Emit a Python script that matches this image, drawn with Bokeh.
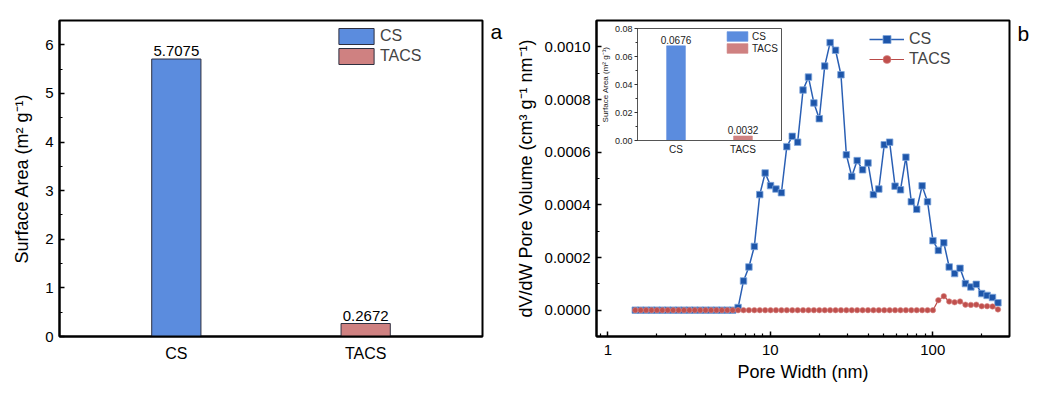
from bokeh.plotting import figure
from bokeh.layouts import row
from bokeh.models import (Range1d, SingleIntervalTicker, FixedTicker, NumeralTickFormatter,
                          BasicTickFormatter, Legend, LegendItem, LabelSet, LinearAxis,
                          ColumnDataSource)
from bokeh.embed import file_html
from bokeh.resources import INLINE
from bokeh.core.properties import value

FONT = "Liberation Sans"

# ---------------- data ----------------
categories = ["CS", "TACS"]
surface_area = [5.7075, 0.2672]

inset_categories = ["CS", "TACS"]
inset_surface_area = [0.0676, 0.0032]

bar_colors = ["#5B8CDE", "#CF8181"]

pore_width = [1.473, 1.590, 1.717, 1.854, 2.002, 2.162, 2.335, 2.521, 2.722, 2.939,
              3.174, 3.425, 3.698, 3.993, 4.312, 4.656, 5.028, 5.429, 5.862, 6.330,
              6.835, 7.380, 7.969, 8.605, 9.291, 10.03, 10.83, 11.70, 12.63, 13.64,
              14.73, 15.90, 17.17, 18.54, 20.02, 21.62, 23.34, 25.21, 27.22, 29.39,
              31.72, 34.25, 36.99, 39.94, 43.12, 46.56, 50.28, 54.29, 58.62, 63.30,
              68.35, 73.80, 79.69, 86.05, 92.91, 100.3, 108.3, 117.0, 126.3, 136.4,
              147.3, 159.0, 171.7, 185.4, 200.2, 216.2, 233.4, 252.1]

cs_dvdw = [0, 0, 0, 0, 0, 0, 0, 0, 0, 0,
           0, 0, 0, 0, 0, 0, 0, 0, 0, 0.000010,
           0.000111, 0.000164, 0.000242, 0.000439, 0.000521, 0.000473, 0.000460, 0.000446, 0.000621, 0.000660,
           0.000638, 0.000836, 0.000885, 0.000787, 0.000727, 0.000927, 0.001016, 0.000987, 0.000894, 0.000590,
           0.000508, 0.000568, 0.000533, 0.000559, 0.000439, 0.000460, 0.000628, 0.000638, 0.000471, 0.000457,
           0.000581, 0.000412, 0.000383, 0.000472, 0.000412, 0.000264, 0.000227, 0.000256, 0.000164, 0.000139,
           0.000159, 0.000101, 0.000088, 0.000098, 0.000063, 0.000056, 0.000048, 0.000028]

tacs_dvdw = [0, 0, 0, 0, 0, 0, 0, 0, 0, 0,
             0, 0, 0, 0, 0, 0, 0, 0, 0, 0,
             0, 0, 0, 0, 0, 0, 0, 0, 0, 0,
             0, 0, 0, 0, 0, 0, 0, 0, 0, 0,
             0, 0, 0, 0, 0, 0, 0, 0, 0, 0,
             0, 0, 0, 0, 0, 0, 0.000038, 0.000053, 0.000033, 0.000030,
             0.000033, 0.000021, 0.000020, 0.000021, 0.000015, 0.000015, 0.000014, 0.000003]

panel_tags = ["a", "b"]

CS_LINE = "#2A5FB4"
CS_MARK = "#1E56AA"
TACS_LINE = "#B94A48"
TACS_MARK = "#C0504D"


def style_axis(ax, tick_size="15px", label_size="18px"):
    ax.axis_line_width = 2
    ax.axis_line_color = "black"
    ax.major_tick_in = 5
    ax.major_tick_out = 0
    ax.minor_tick_in = 3
    ax.minor_tick_out = 0
    ax.major_tick_line_width = 1.5
    ax.minor_tick_line_width = 1.2
    ax.major_tick_line_color = "black"
    ax.minor_tick_line_color = "black"
    ax.major_label_text_font = FONT
    ax.major_label_text_font_size = tick_size
    ax.major_label_text_color = "black"
    ax.axis_label_text_font = FONT
    ax.axis_label_text_font_size = label_size
    ax.axis_label_text_font_style = "normal"
    ax.axis_label_text_color = "black"


def tag_axis(tag, at):
    # a bare right-hand axis that carries only the panel letter
    ax = LinearAxis(ticker=FixedTicker(ticks=[at]), major_label_overrides={at: tag})
    ax.axis_line_color = None
    ax.major_tick_line_color = None
    ax.minor_tick_line_color = None
    ax.major_tick_in = 0
    ax.major_tick_out = 0
    ax.major_label_standoff = 8
    ax.major_label_text_font = FONT
    ax.major_label_text_font_size = "21px"
    ax.major_label_text_color = "black"
    return ax


# ---------------- panel a ----------------
p1 = figure(output_backend="svg", toolbar_location=None,
            frame_width=423, frame_height=316,
            min_border_left=59, min_border_right=30, min_border_top=20, min_border_bottom=52,
            x_range=Range1d(0.383, 2.617), y_range=Range1d(0, 6.5))
p1.xgrid.visible = False
p1.ygrid.visible = False
p1.outline_line_color = "black"
p1.outline_line_width = 2
p1.outline_line_alpha = 1

xpos = [i + 1 for i in range(len(categories))]
src1 = ColumnDataSource(dict(x=xpos, top=surface_area, color=bar_colors,
                             text=[f"{v:.4f}" for v in surface_area]))
bars1 = p1.vbar(x="x", top="top", width=0.26, fill_color="color",
                line_color="#2E3040", line_width=1, source=src1)
p1.add_layout(LabelSet(x="x", y="top", text="text", source=src1, text_align="center",
                       text_baseline="bottom", y_offset=3, text_font=value(FONT),
                       text_font_size=value("15px"), text_color="black"))

style_axis(p1.yaxis[0])
p1.yaxis.ticker = SingleIntervalTicker(interval=1, num_minor_ticks=2)
p1.yaxis.axis_label = "Surface Area (m² g⁻¹)"
p1.yaxis.major_label_standoff = 6
p1.yaxis.axis_label_standoff = 10

style_axis(p1.xaxis[0], tick_size="16px")
p1.xaxis.ticker = FixedTicker(ticks=xpos)
p1.xaxis.major_label_overrides = {x: c for x, c in zip(xpos, categories)}
p1.xaxis.major_tick_in = 0
p1.xaxis.major_tick_out = 0
p1.xaxis.minor_tick_in = 0
p1.xaxis.minor_tick_out = 0
p1.xaxis.major_label_standoff = 8

leg1 = Legend(items=[LegendItem(label=c, renderers=[bars1], index=i) for i, c in enumerate(categories)],
              location=(275, 270), glyph_width=44, glyph_height=20, label_height=16,
              spacing=0, padding=0, margin=0, label_standoff=2,
              label_text_font=FONT, label_text_font_size="16px",
              border_line_color=None, background_fill_alpha=0)
p1.add_layout(leg1)
p1.add_layout(tag_axis(panel_tags[0], 6.28), "right")

# ---------------- panel b ----------------
p2 = figure(output_backend="svg", toolbar_location=None, x_axis_type="log",
            frame_width=413, frame_height=316,
            min_border_left=83, min_border_right=40, min_border_top=20, min_border_bottom=52,
            x_range=Range1d(0.85, 297), y_range=Range1d(-0.0001, 0.0011))
p2.xgrid.visible = False
p2.ygrid.visible = False
p2.outline_line_color = "black"
p2.outline_line_width = 2
p2.outline_line_alpha = 1

cs_l = p2.line(pore_width, cs_dvdw, line_color=CS_LINE, line_width=1.5)
cs_m = p2.scatter(pore_width, cs_dvdw, marker="square", size=6.5,
                  fill_color=CS_MARK, line_color="#7FA6DC", line_width=0.8)
tacs_l = p2.line(pore_width, tacs_dvdw, line_color=TACS_LINE, line_width=1.2)
tacs_m = p2.scatter(pore_width, tacs_dvdw, marker="circle", size=5.5,
                    fill_color=TACS_MARK, line_color="#D98A88", line_width=0.6)

style_axis(p2.xaxis[0])
p2.xaxis.ticker = FixedTicker(ticks=[1, 10, 100],
                              minor_ticks=[0.9, 2, 3, 4, 5, 6, 7, 8, 9,
                                           20, 30, 40, 50, 60, 70, 80, 90, 200])
p2.xaxis.formatter = BasicTickFormatter()
p2.xaxis.axis_label = "Pore Width (nm)"
p2.xaxis.major_label_standoff = 8
p2.xaxis.axis_label_standoff = 4

style_axis(p2.yaxis[0])
p2.yaxis.ticker = SingleIntervalTicker(interval=0.0002, num_minor_ticks=2)
p2.yaxis.formatter = NumeralTickFormatter(format="0.0000")
p2.yaxis.axis_label = "dV/dW Pore Volume (cm³ g⁻¹ nm⁻¹)"
p2.yaxis.major_label_standoff = 6
p2.yaxis.axis_label_standoff = 6

leg2 = Legend(items=[LegendItem(label="CS", renderers=[cs_l, cs_m]),
                     LegendItem(label="TACS", renderers=[tacs_l, tacs_m])],
              location=(273, 267), glyph_width=35, glyph_height=20, label_height=16,
              spacing=0, padding=0, margin=0, label_standoff=5,
              label_text_font=FONT, label_text_font_size="16px",
              border_line_color=None, background_fill_alpha=0)
p2.add_layout(leg2)
p2.add_layout(tag_axis(panel_tags[1], 0.00105), "right")

# ---------------- inset ----------------
p3 = figure(output_backend="svg", toolbar_location=None,
            frame_width=144, frame_height=112,
            min_border_left=46, min_border_right=4, min_border_top=6, min_border_bottom=36,
            x_range=Range1d(0.425, 2.575), y_range=Range1d(0, 0.08),
            styles={"position": "absolute", "left": "591px", "top": "8px"})
p3.title_location = None
p3.border_fill_color = None
p3.background_fill_color = "white"
p3.xgrid.visible = False
p3.ygrid.visible = False
p3.outline_line_color = "#555555"
p3.outline_line_width = 1

ipos = [i + 1 for i in range(len(inset_categories))]
src3 = ColumnDataSource(dict(x=ipos, top=inset_surface_area, color=bar_colors,
                             text=[f"{v:.4f}" for v in inset_surface_area]))
bars3 = p3.vbar(x="x", top="top", width=0.28, fill_color="color", line_color="color",
                line_alpha=0.6, source=src3)
p3.add_layout(LabelSet(x="x", y="top", text="text", source=src3, text_align="center",
                       text_baseline="bottom", y_offset=2, text_font=value(FONT),
                       text_font_size=value("10px"), text_color="#222222"))

ya = p3.yaxis[0]
ya.ticker = SingleIntervalTicker(interval=0.02, num_minor_ticks=2)
ya.formatter = NumeralTickFormatter(format="0.00")
ya.axis_label = "Surface Area (m² g⁻¹)"
ya.axis_line_color = "#555555"
ya.axis_line_width = 1
ya.major_tick_in = 0
ya.major_tick_out = 3
ya.minor_tick_in = 0
ya.minor_tick_out = 2
ya.major_tick_line_color = "#333333"
ya.minor_tick_line_color = "#333333"
ya.major_label_text_font = FONT
ya.major_label_text_font_size = "9px"
ya.major_label_text_color = "#222222"
ya.major_label_standoff = 2
ya.axis_label_text_font = FONT
ya.axis_label_text_font_size = "8px"
ya.axis_label_text_font_style = "normal"
ya.axis_label_text_color = "#222222"
ya.axis_label_standoff = 2

xa = p3.xaxis[0]
xa.ticker = FixedTicker(ticks=ipos)
xa.major_label_overrides = {x: c for x, c in zip(ipos, inset_categories)}
xa.axis_line_color = "#555555"
xa.axis_line_width = 1
xa.major_tick_in = 0
xa.major_tick_out = 0
xa.minor_tick_in = 0
xa.minor_tick_out = 0
xa.major_label_text_font = FONT
xa.major_label_text_font_size = "10px"
xa.major_label_text_color = "#222222"
xa.major_label_standoff = 3

leg3 = Legend(items=[LegendItem(label=c, renderers=[bars3], index=i) for i, c in enumerate(inset_categories)],
              location=(87, 86), glyph_width=26, glyph_height=12, label_height=10,
              spacing=0, padding=0, margin=0, label_standoff=2,
              label_text_font=FONT, label_text_font_size="10px", label_text_color="#222222",
              border_line_color=None, background_fill_alpha=0)
p3.add_layout(leg3)

layout = row(p1, p2, p3)
open("out.html", "w").write(file_html(layout, INLINE))
